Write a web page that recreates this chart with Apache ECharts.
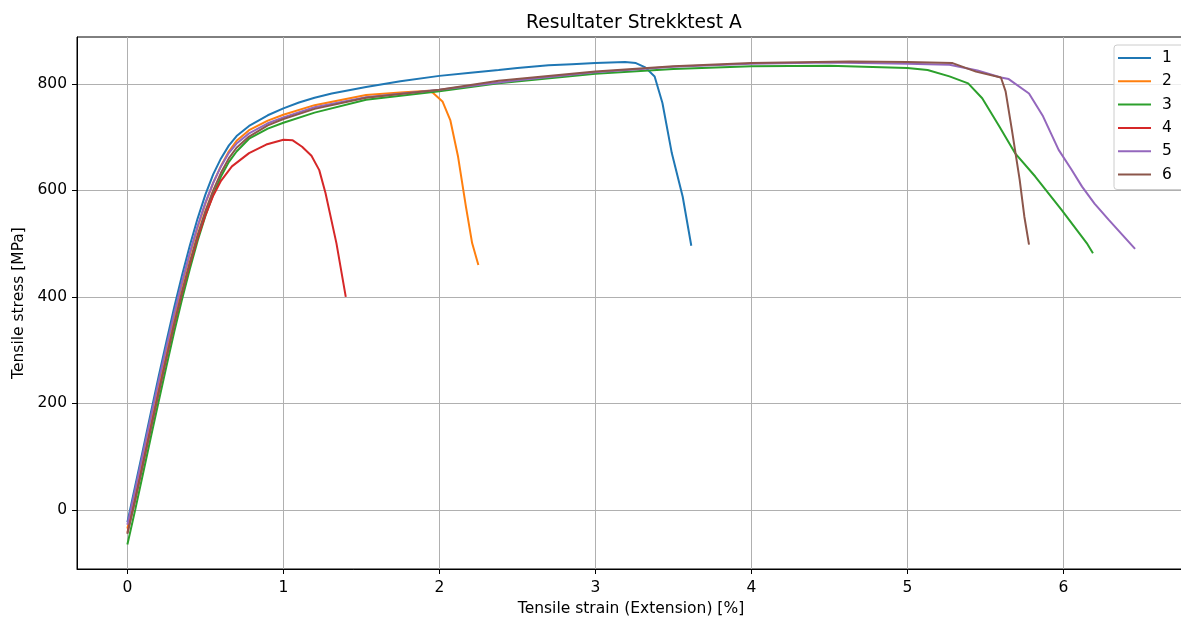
<!DOCTYPE html>
<html>
<head>
<meta charset="utf-8">
<script src="https://cdn.jsdelivr.net/npm/echarts@6/dist/echarts.min.js"></script>
<style>
html,body{margin:0;padding:0;background:#fff;overflow:hidden;width:1181px;height:624px;}
#chart{width:1192px;height:624px;}
</style>
</head>
<body>
<div id="chart"></div>
<script>
const seriesNames = ['1','2','3','4','5','6'];
const xTicks = [0,1,2,3,4,5,6];
const yTicks = [0,200,400,600,800];

const s1 = [[0,-23],[0.05,45],[0.1,113],[0.15,182],[0.2,250],[0.25,316],[0.3,380],[0.35,440],[0.4,496],[0.45,547],[0.5,592],[0.55,630],[0.6,660],[0.65,684],[0.7,702],[0.78,721],[0.9,741],[1.0,754],[1.1,765],[1.2,774],[1.31,782],[1.53,794],[1.75,805],[2.0,815],[2.2,821],[2.38,826],[2.5,830],[2.7,835],[2.85,837],[3.0,839],[3.19,841],[3.26,839],[3.32,831],[3.38,814],[3.43,764],[3.49,670],[3.56,588],[3.615,496]];
const s2 = [[0,-35],[0.05,30],[0.1,98],[0.15,166],[0.2,233],[0.25,299],[0.3,363],[0.35,423],[0.4,479],[0.45,530],[0.5,575],[0.55,614],[0.6,646],[0.65,673],[0.7,693],[0.78,713],[0.9,731],[1.0,742],[1.2,760],[1.53,779],[1.75,784],[1.93,787],[1.96,783],[2.02,767],[2.07,732],[2.12,663],[2.17,570],[2.21,501],[2.25,460]];
const s3 = [[0,-65],[0.05,0],[0.1,68],[0.15,136],[0.2,203],[0.25,269],[0.3,334],[0.35,395],[0.4,452],[0.45,505],[0.5,552],[0.55,592],[0.6,626],[0.65,653],[0.7,673],[0.78,697],[0.9,716],[1.0,727],[1.2,746],[1.53,770],[2.0,786],[2.38,801],[3.0,819],[3.5,828],[4.0,833],[4.5,834],[5.0,830],[5.13,826],[5.27,814],[5.39,801],[5.48,773],[5.59,720],[5.69,670],[5.82,626],[5.99,563],[6.15,501],[6.19,482]];
const s4 = [[0,-43],[0.05,20],[0.1,87],[0.15,154],[0.2,220],[0.25,285],[0.3,348],[0.35,407],[0.4,461],[0.45,510],[0.5,553],[0.55,590],[0.6,618],[0.67,645],[0.78,670],[0.89,686],[1.0,695],[1.06,694],[1.12,682],[1.18,665],[1.23,638],[1.27,595],[1.34,501],[1.40,400]];
const s5 = [[0,-28],[0.05,38],[0.1,106],[0.15,174],[0.2,241],[0.25,306],[0.3,369],[0.35,428],[0.4,483],[0.45,533],[0.5,577],[0.55,614],[0.6,645],[0.65,670],[0.7,688],[0.78,707],[0.9,726],[1.0,737],[1.2,756],[1.53,775],[2.0,789],[2.5,807],[3.0,822],[3.5,832],[4.0,838],[4.5,840],[5.0,838],[5.27,836],[5.45,825],[5.6,812],[5.65,809],[5.78,782],[5.87,739],[5.97,676],[6.05,640],[6.12,607],[6.2,575],[6.29,545],[6.38,516],[6.46,490]];
const s6 = [[0,-45],[0.05,18],[0.1,85],[0.15,152],[0.2,219],[0.25,285],[0.3,349],[0.35,409],[0.4,465],[0.45,516],[0.5,561],[0.55,600],[0.6,633],[0.65,660],[0.7,680],[0.78,701],[0.9,722],[1.0,734],[1.2,753],[1.53,774],[2.0,789],[2.38,806],[3.0,823],[3.5,833],[4.0,839],[4.63,842],[5.0,841],[5.29,839],[5.44,823],[5.6,812],[5.63,786],[5.67,714],[5.72,620],[5.75,551],[5.78,498]];

const allData = [s1,s2,s3,s4,s5,s6];
const colors = ['#1f77b4','#ff7f0e','#2ca02c','#d62728','#9467bd','#8c564b'];
const FONT = 'DejaVu Sans';
const FS = 15.5;

const chart = echarts.init(document.getElementById('chart'), null, {renderer:'canvas'});
chart.setOption({
  animation: false,
  backgroundColor: '#ffffff',
  color: colors,
  title: {
    text: 'Resultater Strekktest A',
    left: 521, top: 9,
    textStyle: {fontFamily: FONT, fontSize: 18.7, fontWeight: 'normal', color: '#000'}
  },
  legend: {
    orient: 'vertical', left: 1114, top: 45,
    padding: [4, 14, 6, 4],
    itemWidth: 33, itemHeight: 2, itemGap: 5.3,
    icon: 'rect',
    backgroundColor: 'rgba(255,255,255,0.8)',
    borderColor: '#cccccc', borderWidth: 1, borderRadius: 3,
    textStyle: {fontFamily: FONT, fontSize: FS, color: '#000', lineHeight: 18, padding: [0,0,0,6]},
    data: seriesNames
  },
  grid: {left: 77, top: 37, width: 1108, bottom: 55, show: true, borderColor: '#000', borderWidth: 1, backgroundColor: 'transparent'},
  xAxis: {
    type: 'value', min: -0.323, max: 6.78,
    name: 'Tensile strain (Extension) [%]', nameLocation: 'middle', nameGap: 31,
    nameTextStyle: {fontFamily: FONT, fontSize: FS, color: '#000'},
    axisLine: {show: true, onZero: false, lineStyle: {color: '#000', width: 1}},
    axisTick: {show: true, length: 5, lineStyle: {color: '#000', width: 1}, customValues: xTicks},
    axisLabel: {fontFamily: FONT, fontSize: FS, color: '#000', margin: 11, customValues: xTicks},
    splitLine: {show: true, lineStyle: {color: '#b0b0b0', width: 1}}
  },
  yAxis: {
    type: 'value', min: -111, max: 888,
    name: 'Tensile stress [MPa]', nameLocation: 'middle', nameGap: 47, nameRotate: 90,
    nameTextStyle: {fontFamily: FONT, fontSize: FS, color: '#000'},
    axisLine: {show: true, onZero: false, lineStyle: {color: '#000', width: 1}},
    axisTick: {show: true, length: 5, lineStyle: {color: '#000', width: 1}, customValues: yTicks},
    axisLabel: {fontFamily: FONT, fontSize: FS, color: '#000', margin: 10, customValues: yTicks},
    splitLine: {show: true, lineStyle: {color: '#b0b0b0', width: 1}}
  },
  series: allData.map((d, i) => ({
    name: seriesNames[i], type: 'line', data: d,
    showSymbol: false, symbol: 'none', smooth: false,
    lineStyle: {width: 2, color: colors[i]},
    emphasis: {disabled: true}
  }))
});
</script>
</body>
</html>
